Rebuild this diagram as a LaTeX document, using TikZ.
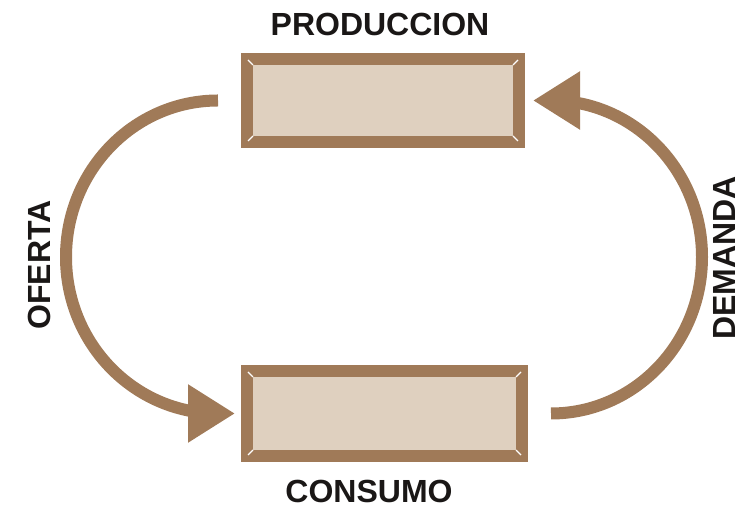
\documentclass[tikz,border=0pt]{standalone}
\usepackage{fontspec}
\setmainfont{Liberation Sans}
\usetikzlibrary{arrows.meta}

\definecolor{marron}{RGB}{160,122,88}
\definecolor{crema}{RGB}{223,208,191}
\definecolor{tinta}{RGB}{26,23,22}

\tikzset{
  frame/.style={rectangle, draw=marron, fill=crema, line width=12pt, inner sep=0pt},
  flow/.style={draw=marron, line width=12pt, -{Triangle[length=47pt, width=55pt]}},
  lbl/.style={text=tinta, font=\bfseries\fontsize{32}{36}\selectfont, inner sep=0pt}
}

\begin{document}
\begin{tikzpicture}[x=1pt, y=1pt]
\useasboundingbox (0,0) rectangle (755,518);

\node[frame, minimum width=272pt, minimum height=83pt] (prod) at (383, 417.5) {};
\node[frame, minimum width=275pt, minimum height=85pt] (cons) at (384.5, 104.5) {};

% little bevel marks at the frame corners
\foreach \b in {prod, cons} {
  \foreach \c/\dx/\dy in {north west/1/-1, north east/-1/-1, south west/1/1, south east/-1/1}
    \draw[white, line width=1.2pt] ([shift={(\dx*7,\dy*7)}]\b.\c) -- ([shift={(\dx*12,\dy*12)}]\b.\c);
}

\draw[flow] ([xshift=-23pt]prod.west) arc[start angle=90, end angle=270, x radius=152pt, y radius=156.5pt]
  -- ([xshift=-6pt]cons.west);
\draw[flow] ([xshift=23pt]cons.east) arc[start angle=-90, end angle=90, x radius=151pt, y radius=156.5pt]
  -- ([xshift=8pt]prod.east);

\node[lbl] (titprod) at (380, 493.5) {PRODUCCION};
\node[lbl] (titcons) at (369, 26.5) {CONSUMO};
\node[lbl, rotate=90] (oferta) at (39, 253) {OFERTA};
\node[lbl, rotate=90] (demanda) at (724, 260) {DEMANDA};

\end{tikzpicture}
\end{document}
